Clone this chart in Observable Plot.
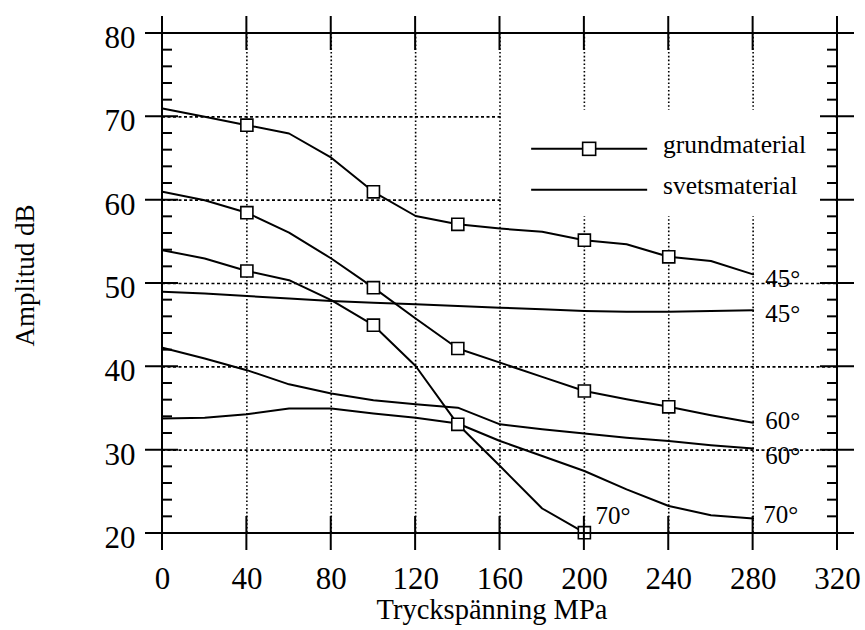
<!DOCTYPE html>
<html><head><meta charset="utf-8">
<script src="https://cdn.jsdelivr.net/npm/d3@7"></script>
<script src="https://cdn.jsdelivr.net/npm/@observablehq/plot@0.6"></script>
<style>
body{margin:0;background:#fff}
#chart{width:865px;height:630px}
</style>
</head><body><div id="chart"></div>
<script>
// ---- data ----
const stress = [0,20,40,60,80,100,120,140,160,180,200,220,240,260,280];
const grund45 = [71,70,69,68,65.1,61,58.1,57.1,56.6,56.2,55.2,54.7,53.2,52.7,51.1];
const grund60 = [61,60,58.5,56.1,53,49.5,45.8,42.2,40.5,38.8,37.1,36.1,35.2,34.2,33.3];
const grund70 = [54,53,51.5,50.4,48,45,40.1,33.1,28.1,23,20.1];
const svets45 = [49,48.8,48.5,48.2,47.9,47.7,47.5,47.3,47.1,46.9,46.7,46.6,46.6,46.7,46.8];
const svets60 = [42.3,41,39.6,37.9,36.8,36,35.5,35.1,33.1,32.5,32,31.5,31.1,30.6,30.2];
const svets70 = [33.8,33.9,34.3,35,35,34.4,33.9,33.2,31.1,29.3,27.5,25.3,23.3,22.2,21.8];
const markerStress = [40,100,140,200,240];
const xTicks = [0,40,80,120,160,200,240,280,320];
const yTicks = [20,30,40,50,60,70,80];
const legendLabels = ["grundmaterial","svetsmaterial"];
const angleLabels = ["45°","60°","70°"];
const xTitle = "Tryckspänning MPa";
const yTitle = "Amplitud dB";

const pts = vals => vals.map((v,i) => ({x: stress[i], y: v}));
const G45 = pts(grund45), G60 = pts(grund60), G70 = pts(grund70);
const S45 = pts(svets45), S60 = pts(svets60), S70 = pts(svets70);
const markers = [...G45, ...G60, ...G70].filter(d => markerStress.includes(d.x));
const last = a => [a[a.length-1]];

const FONT = '"Liberation Serif","Times New Roman",serif';
const lineOpts = {x:"x", y:"y", stroke:"black", strokeWidth:2};
const lbl = (series, text, dx, dy) =>
  Plot.text(last(series), {x:"x", y:"y", text: () => text, textAnchor:"start", lineAnchor:"middle", dx, dy, fontSize:25});

const chart = Plot.plot({
  width: 865, height: 630,
  marginLeft: 162, marginRight: 28, marginTop: 33, marginBottom: 97,
  x: {domain:[0,320], axis:null},
  y: {domain:[20,80], axis:null},
  style: {fontFamily: FONT, background:"white", color:"black"},
  marks: [
    Plot.ruleX(xTicks.slice(1,-1), {x: d=>d, stroke:"black", strokeWidth:1.6, strokeDasharray:"1.6,2.2"}),
    Plot.ruleY(yTicks.slice(1,-1), {y: d=>d, stroke:"black", strokeWidth:1.6, strokeDasharray:"3,2.5"}),
    Plot.line(G45, lineOpts), Plot.line(G60, lineOpts), Plot.line(G70, lineOpts),
    Plot.line(S45, lineOpts), Plot.line(S60, lineOpts), Plot.line(S70, lineOpts),
    Plot.dot(markers, {x:"x", y:"y", symbol:"square", r:6.8, fill:"white", stroke:"black", strokeWidth:1.6}),
    lbl(G45, angleLabels[0], 12, 5),
    lbl(S45, angleLabels[0], 12, 4),
    lbl(G60, angleLabels[1], 12, -2),
    lbl(S60, angleLabels[1], 12, 7),
    lbl(S70, angleLabels[2], 10, -4),
    lbl(G70, angleLabels[2], 11, -17),
    Plot.text(xTicks, {x: d=>d, frameAnchor:"bottom", text: d=>String(d), textAnchor:"middle", lineAnchor:"middle", dy:46, fontSize:31}),
    Plot.text(yTicks, {y: d=>d, frameAnchor:"left", text: d=>String(d), textAnchor:"end", lineAnchor:"middle", dx:-27, dy:4.5, fontSize:31}),
    Plot.text([xTitle], {frameAnchor:"bottom", text: d=>d, textAnchor:"middle", lineAnchor:"middle", dy:76, dx:-8, fontSize:28.5}),
    Plot.text([yTitle], {frameAnchor:"left", text: d=>d, textAnchor:"middle", lineAnchor:"middle", rotate:-90, dx:-137, dy:-8, fontSize:27})
  ]
});
document.getElementById("chart").appendChild(chart);

// ---- legend, frame and crossing ticks drawn with Plot's own scales ----
const xs = chart.scale("x"), ys = chart.scale("y");
const X = d3.scaleLinear(xs.domain, xs.range), Y = d3.scaleLinear(ys.domain, ys.range);
const svg = d3.select(chart);

const lg = svg.append("g");
lg.append("rect").attr("x", X(160)+1.5).attr("y", Y(70.8))
  .attr("width", X(320)-X(160)-3).attr("height", Y(58)-Y(70.8)).attr("fill","white");
const legendY = [66.1, 61.2];
legendLabels.forEach((name, i) => {
  const yy = Y(legendY[i]);
  lg.append("line").attr("x1", X(175)).attr("x2", X(230)).attr("y1", yy).attr("y2", yy)
    .attr("stroke","black").attr("stroke-width",2);
  if (i === 0) lg.append("rect").attr("x", X(202.5)-6.5).attr("y", yy-6.5).attr("width",13).attr("height",13)
    .attr("fill","white").attr("stroke","black").attr("stroke-width",1.6);
  lg.append("text").attr("x", X(237.5)).attr("y", yy+4).attr("font-family", FONT)
    .attr("text-anchor","start").attr("font-size", 25.5).attr("fill","black").text(name);
});

const fg = svg.append("g").attr("stroke","black").attr("stroke-width",2).attr("fill","none");
fg.append("rect").attr("x", X(0)).attr("y", Y(80)).attr("width", X(320)-X(0)).attr("height", Y(20)-Y(80));
const seg = (x1,y1,x2,y2) => fg.append("line").attr("x1",x1).attr("y1",y1).attr("x2",x2).attr("y2",y2);
xTicks.forEach(t => { seg(X(t), Y(80)-17, X(t), Y(80)+17); seg(X(t), Y(20)-17, X(t), Y(20)+17); });
yTicks.forEach(t => { seg(X(0)-17, Y(t), X(0)+16, Y(t)); seg(X(320)-17, Y(t), X(320)+17, Y(t)); });
d3.range(22, 80, 2).filter(v => v % 10 !== 0).forEach(v => {
  seg(X(0), Y(v), X(0)+10, Y(v)); seg(X(320)-10, Y(v), X(320), Y(v));
});
</script>
</body></html>
